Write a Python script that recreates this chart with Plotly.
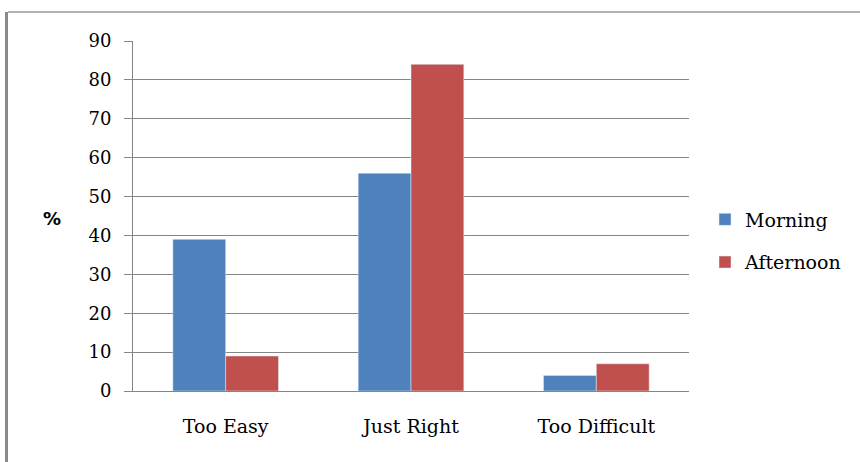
import plotly.graph_objects as go

categories = ["Too Easy", "Just Right", "Too Difficult"]
morning = [39, 56, 4]
afternoon = [9, 84, 7]
y_ticks = [0, 10, 20, 30, 40, 50, 60, 70, 80, 90]

FONT = "DejaVu Serif"
GRID = "#868686"

fig = go.Figure()
fig.add_trace(go.Bar(name="Morning", x=categories, y=morning, marker_color="#4F81BD", legendgroup="m"))
fig.add_trace(go.Bar(name="Afternoon", x=categories, y=afternoon, marker_color="#C0504D", legendgroup="a"))

L, R, T, B = 133, 171, 41, 71
W, H = 860 - L - R, 462 - T - B

def px_x(p):
    return (p - L) / W

def px_y(p):
    return (462 - B - p) / H

fig.update_layout(
    width=860, height=462,
    margin=dict(l=L, r=R, t=T, b=B),
    paper_bgcolor="white", plot_bgcolor="white",
    barmode="group", bargap=0.43, bargroupgap=0,
    font=dict(family=FONT, size=16, color="black"),
    showlegend=True,
    legend=dict(x=px_x(705), y=px_y(241), xanchor="left", yanchor="middle",
                font=dict(family=FONT, size=19), itemwidth=30, tracegroupgap=15,
                traceorder="grouped", bgcolor="rgba(0,0,0,0)"),
    xaxis=dict(showgrid=False, showline=True, linecolor=GRID, linewidth=1,
               ticks="", tickfont=dict(family=FONT, size=19), ticklabelstandoff=18),
    yaxis=dict(range=[0, 90], tickvals=y_ticks, showgrid=True, gridcolor=GRID, gridwidth=1,
               showline=True, linecolor=GRID, linewidth=1, ticks="outside", ticklen=8,
               tickcolor=GRID, tickfont=dict(family=FONT, size=18), ticklabelstandoff=9,
               zeroline=False),
    shapes=[
        dict(type="line", xref="paper", yref="paper", x0=px_x(8), x1=px_x(860), y0=px_y(12), y1=px_y(12),
             line=dict(color="#9a9a9a", width=1.5)),
        dict(type="line", xref="paper", yref="paper", x0=px_x(6.5), x1=px_x(6.5), y0=px_y(12), y1=px_y(462),
             line=dict(color="#8a8a8a", width=3)),
    ],
    annotations=[
        dict(text="<b>%</b>", xref="paper", yref="paper", x=px_x(52), y=px_y(218),
             xanchor="center", yanchor="middle", showarrow=False,
             font=dict(family="DejaVu Sans", size=18, color="black")),
    ],
)

fig.write_html("out.html", config={"displayModeBar": False},
               post_script="document.body.style.margin='0';document.body.style.overflow='hidden';")
